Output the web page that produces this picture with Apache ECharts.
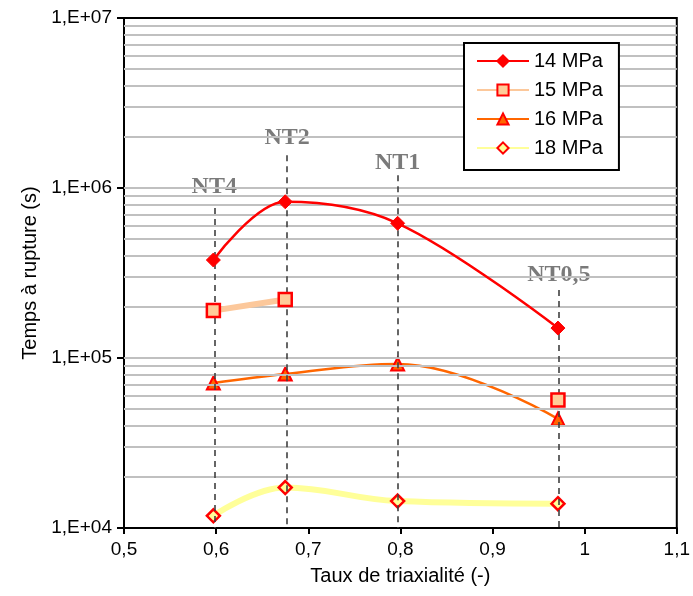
<!DOCTYPE html>
<html><head><meta charset="utf-8">
<script src="https://cdn.jsdelivr.net/npm/echarts@6/dist/echarts.min.js"></script>
<style>html,body{margin:0;padding:0;background:#fff}#c{width:693px;height:596px}</style>
</head><body><div id="c"></div>
<script>
// ---- data ----
const seriesNames = ['14 MPa', '15 MPa', '16 MPa', '18 MPa'];
const x14 = [0.597, 0.675, 0.797, 0.971];
const y14 = [3.77e5, 8.30e5, 6.20e5, 1.50e5];
const x15 = [0.597, 0.675, 0.797, 0.971];
const y15 = [1.90e5, 2.21e5, null, 5.66e4];
const x16 = [0.597, 0.675, 0.797, 0.971];
const y16 = [7.13e4, 8.05e4, 9.22e4, 4.38e4];
const x18 = [0.597, 0.675, 0.797, 0.971];
const y18 = [1.18e4, 1.73e4, 1.44e4, 1.39e4];
// annotations (data space)
const ntNames = ['NT4', 'NT2', 'NT1', 'NT0,5'];
const ntX = [0.598, 0.677, 0.797, 0.972];
const ntTextY = [1.01e6, 1.97e6, 1.40e6, 3.08e5];
const ntLineTop = [7.62e5, 1.56e6, 1.19e6, 2.51e5];
const yMin = 1e4, yMax = 1e7;
const xMin = 0.5, xMax = 1.1, xStep = 0.1;
// grid line values (2..10 x each decade)
const gridVals = [];
for (let d = 4; d < 7; d++) for (let m = 2; m <= 10; m++) { const v = m * Math.pow(10, d); if (v < yMax) gridVals.push(v); }

const pair = (xs, ys) => xs.map((x, i) => [x, ys[i] === null ? '-' : ys[i]]);
const FONT = 'Liberation Sans, Arial, sans-serif';

const chart = echarts.init(document.getElementById('c'), null, {renderer: 'canvas'});
chart.setOption({
  animation: false,
  backgroundColor: '#fff',
  grid: {left: 124, right: 7, top: 18, bottom: 68, show: true, borderColor: '#000', borderWidth: 2, backgroundColor: 'transparent'},
  legend: {
    data: seriesNames, left: 464, top: 43, orient: 'vertical', z: 20, zlevel: 0,
    itemWidth: 52, itemHeight: 14, itemGap: 9,
    padding: [8, 16, 12, 12],
    borderColor: '#000', borderWidth: 2, backgroundColor: '#fff',
    textStyle: {fontFamily: FONT, fontSize: 20, color: '#000'}
  },
  xAxis: {
    type: 'value', min: xMin, max: xMax, interval: xStep,
    name: 'Taux de triaxialité (-)', nameLocation: 'middle', nameGap: 38,
    nameTextStyle: {fontFamily: FONT, fontSize: 20, color: '#000'},
    axisLine: {show: true, lineStyle: {color: '#000', width: 2}},
    axisTick: {show: true, inside: false, length: 6, lineStyle: {color: '#000', width: 2}},
    axisLabel: {fontFamily: FONT, fontSize: 19, color: '#000', margin: 12,
      formatter: v => String(Math.round(v * 10) / 10).replace('.', ',')},
    splitLine: {show: false}
  },
  yAxis: {
    type: 'log', min: yMin, max: yMax, logBase: 10,
    name: 'Temps à rupture (s)', nameLocation: 'middle', nameGap: 82,
    nameTextStyle: {fontFamily: FONT, fontSize: 20, color: '#000'},
    axisLine: {show: true, lineStyle: {color: '#000', width: 2}},
    axisTick: {show: true, inside: false, length: 7, lineStyle: {color: '#000', width: 2}},
    axisLabel: {fontFamily: FONT, fontSize: 19, color: '#000', margin: 12,
      formatter: v => '1,E+' + String(Math.round(Math.log10(v))).padStart(2, '0')},
    splitLine: {show: false}
  },
  series: [
    {
      name: 'grid', type: 'line', data: [], z: 1, silent: true,
      markLine: {silent: true, symbol: ['none', 'none'], label: {show: false}, animation: false,
        lineStyle: {color: '#c0c0c0', width: 2, type: 'solid'},
        data: gridVals.map(v => ({yAxis: v}))}
    },
    {
      name: 'nt', type: 'line', data: [], z: 2, silent: true,
      markLine: {silent: true, symbol: ['none', 'none'], label: {show: false}, animation: false,
        lineStyle: {color: '#404040', width: 1.6, type: [6, 5]},
        data: ntX.map((x, i) => [{coord: [x, ntLineTop[i]]}, {coord: [x, yMin]}])}
    },
    {
      name: 'ntLabels', type: 'scatter', z: 2, silent: true, symbolSize: 0,
      data: ntX.map((x, i) => ({value: [x, ntTextY[i]], name: ntNames[i]})),
      label: {show: true, position: 'inside', formatter: p => p.name,
        fontFamily: 'Liberation Serif, Times New Roman, serif', fontWeight: 'bold', fontSize: 24, color: '#595959'}
    },
    {
      name: seriesNames[3], type: 'line', z: 3, smooth: 0.4,
      data: pair(x18, y18),
      lineStyle: {color: '#ffff99', width: 6},
      symbol: 'diamond', symbolSize: 13,
      itemStyle: {color: '#ffff99', borderColor: '#ff0000', borderWidth: 2.5}
    },
    {
      name: seriesNames[2], type: 'line', z: 4, smooth: 0.4,
      data: pair(x16, y16),
      lineStyle: {color: '#ff6600', width: 2.5},
      symbol: 'triangle', symbolSize: 13,
      itemStyle: {color: '#ff6600', borderColor: '#ff0000', borderWidth: 2}
    },
    {
      name: seriesNames[1], type: 'line', z: 5, smooth: 0.4, connectNulls: false,
      data: pair(x15, y15),
      lineStyle: {color: '#fcc89b', width: 6},
      symbol: 'rect', symbolSize: 13,
      itemStyle: {color: '#ffcc99', borderColor: '#ff0000', borderWidth: 2.5}
    },
    {
      name: seriesNames[0], type: 'line', z: 6, smooth: 0.35,
      data: pair(x14, y14),
      lineStyle: {color: '#ff0000', width: 2.5},
      symbol: 'diamond', symbolSize: 14,
      itemStyle: {color: '#ff0000', borderColor: '#ff0000', borderWidth: 1}
    }
  ]
});
</script></body></html>
